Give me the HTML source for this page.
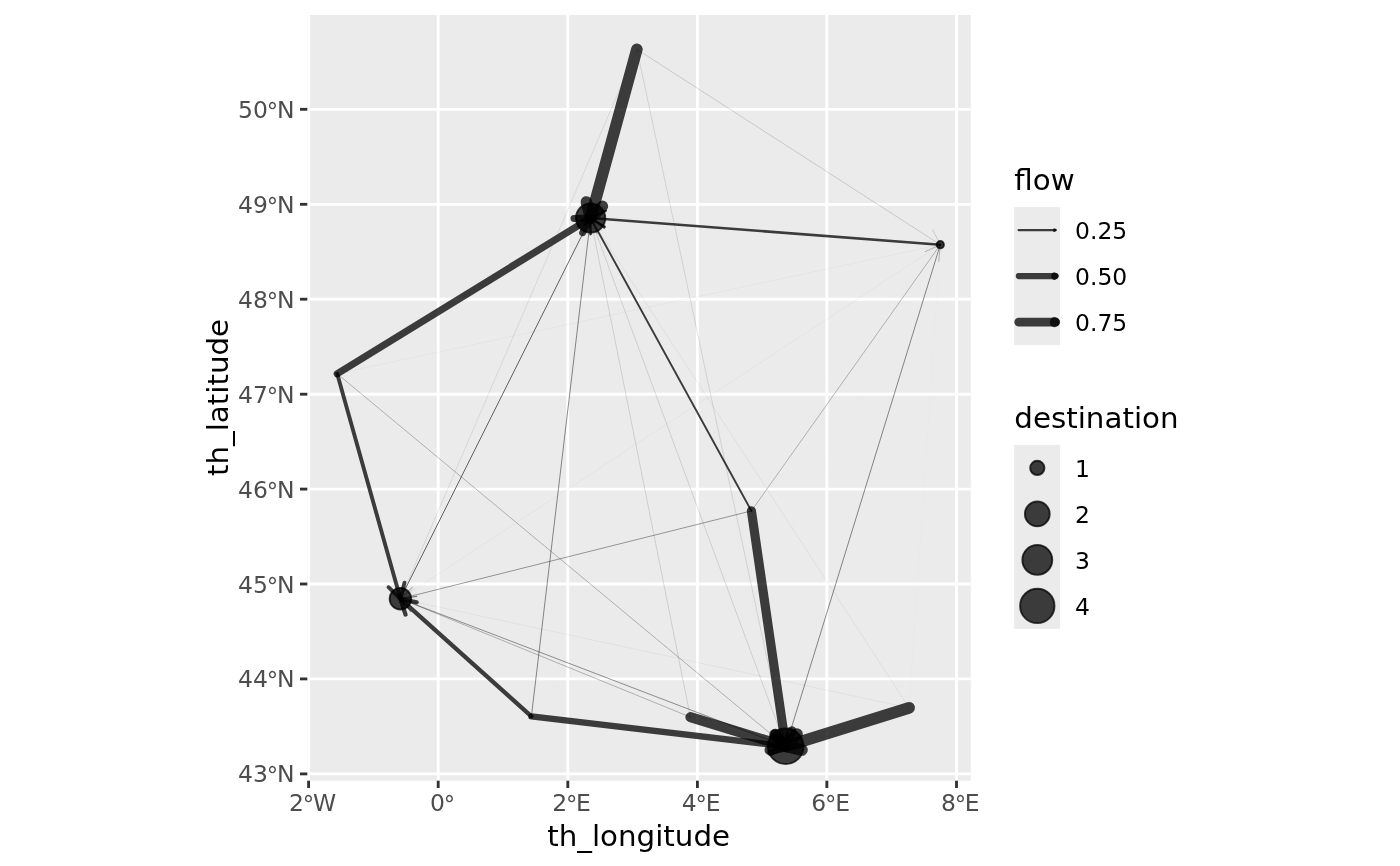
<!DOCTYPE html>
<html lang="en"><head><meta charset="utf-8"><title>flow map</title>
<style>html,body{margin:0;padding:0;background:#fff}body{width:1400px;height:866px;overflow:hidden}svg{display:block}text{font-family:'DejaVu Sans','Liberation Sans',sans-serif}.ax{font-size:23.47px;fill:#4d4d4d}.ti{font-size:29.33px;fill:#000}.lg{font-size:23.47px;fill:#000}</style></head><body>
<svg width="1400" height="866" viewBox="0 0 1400 866">
<rect width="1400" height="866" fill="#fff"/>
<defs><clipPath id="pc"><rect x="307.3" y="15" width="663.5" height="765.7"/></clipPath></defs>
<rect x="307.3" y="15" width="663.5" height="765.7" fill="#ebebeb"/>
<g clip-path="url(#pc)">
<g stroke="#fff" stroke-width="2.85" fill="none">
<line x1="308.6" y1="15" x2="308.6" y2="780.7"/>
<line x1="438.2" y1="15" x2="438.2" y2="780.7"/>
<line x1="567.8" y1="15" x2="567.8" y2="780.7"/>
<line x1="697.4" y1="15" x2="697.4" y2="780.7"/>
<line x1="826.85" y1="15" x2="826.85" y2="780.7"/>
<line x1="956.5" y1="15" x2="956.5" y2="780.7"/>
<line x1="307.3" y1="773.9" x2="970.8" y2="773.9"/>
<line x1="307.3" y1="678.9" x2="970.8" y2="678.9"/>
<line x1="307.3" y1="584" x2="970.8" y2="584"/>
<line x1="307.3" y1="489.1" x2="970.8" y2="489.1"/>
<line x1="307.3" y1="394.2" x2="970.8" y2="394.2"/>
<line x1="307.3" y1="299.2" x2="970.8" y2="299.2"/>
<line x1="307.3" y1="204.3" x2="970.8" y2="204.3"/>
<line x1="307.3" y1="109.3" x2="970.8" y2="109.3"/>
</g>
<g stroke="#000" stroke-opacity="0.75" fill="none" stroke-linecap="round" stroke-linejoin="round">
<line x1="690.4" y1="717.1" x2="940.3" y2="244.7" stroke-width="0.02"/>
<polyline points="926.24,253.53 940.3,244.7 940.91,261.29" stroke-width="0.02"/>
<line x1="531.4" y1="716.4" x2="940.3" y2="244.7" stroke-width="0.02"/>
<polyline points="924.61,250.13 940.3,244.7 937.16,261" stroke-width="0.02"/>
<line x1="909.1" y1="707.8" x2="940.3" y2="244.7" stroke-width="0.02"/>
<polyline points="931.05,258.49 940.3,244.7 947.61,259.6" stroke-width="0.02"/>
<line x1="337.2" y1="373.8" x2="940.3" y2="244.7" stroke-width="0.05"/>
<polyline points="924.51,239.59 940.3,244.7 927.98,255.83" stroke-width="0.05"/>
<line x1="909.1" y1="707.8" x2="400.4" y2="598.8" stroke-width="0.06"/>
<polyline points="412.72,609.93 400.4,598.8 416.2,593.7" stroke-width="0.06"/>
<line x1="400.4" y1="598.8" x2="940.3" y2="244.7" stroke-width="0.03"/>
<polyline points="923.73,245.64 940.3,244.7 932.83,259.52" stroke-width="0.03"/>
<line x1="940.3" y1="244.7" x2="400.4" y2="598.8" stroke-width="0.03"/>
<polyline points="416.97,597.86 400.4,598.8 407.87,583.98" stroke-width="0.03"/>
<line x1="909.1" y1="707.8" x2="590.6" y2="218" stroke-width="0.08"/>
<polyline points="591.48,234.58 590.6,218 605.4,225.53" stroke-width="0.08"/>
<line x1="636.9" y1="49.3" x2="400.4" y2="598.8" stroke-width="0.12"/>
<polyline points="413.71,588.88 400.4,598.8 398.46,582.31" stroke-width="0.12"/>
<line x1="636.9" y1="49.3" x2="785.7" y2="746.3" stroke-width="0.15"/>
<polyline points="790.82,730.51 785.7,746.3 774.58,733.97" stroke-width="0.15"/>
<line x1="636.9" y1="49.3" x2="940.3" y2="244.7" stroke-width="0.2"/>
<polyline points="932.71,229.94 940.3,244.7 923.72,243.89" stroke-width="0.2"/>
<line x1="690.4" y1="717.1" x2="590.6" y2="218" stroke-width="0.17"/>
<polyline points="585.28,233.72 590.6,218 601.56,230.47" stroke-width="0.17"/>
<line x1="590.6" y1="218" x2="785.7" y2="746.3" stroke-width="0.1"/>
<polyline points="788.51,729.94 785.7,746.3 772.93,735.69" stroke-width="0.1"/>
<line x1="785.7" y1="746.3" x2="590.6" y2="218" stroke-width="0.08"/>
<polyline points="587.79,234.36 590.6,218 603.37,228.61" stroke-width="0.08"/>
<line x1="337.2" y1="373.8" x2="785.7" y2="746.3" stroke-width="0.35"/>
<polyline points="779.94,730.73 785.7,746.3 769.34,743.5" stroke-width="0.35"/>
<line x1="690.4" y1="717.1" x2="400.4" y2="598.8" stroke-width="0.35"/>
<polyline points="410.58,611.92 400.4,598.8 416.85,596.54" stroke-width="0.35"/>
<line x1="751.4" y1="510.9" x2="940.3" y2="244.7" stroke-width="0.35"/>
<polyline points="925.21,251.62 940.3,244.7 938.75,261.23" stroke-width="0.35"/>
<line x1="751.4" y1="510.9" x2="400.4" y2="598.8" stroke-width="0.5"/>
<polyline points="416.36,603.36 400.4,598.8 412.33,587.26" stroke-width="0.5"/>
<line x1="785.7" y1="746.3" x2="400.4" y2="598.8" stroke-width="0.55"/>
<polyline points="410.86,611.69 400.4,598.8 416.79,596.19" stroke-width="0.55"/>
<line x1="531.4" y1="716.4" x2="590.6" y2="218" stroke-width="0.6"/>
<polyline points="580.66,231.3 590.6,218 597.15,233.25" stroke-width="0.6"/>
<line x1="940.3" y1="244.7" x2="785.7" y2="746.3" stroke-width="0.6"/>
<polyline points="797.87,735.01 785.7,746.3 782,730.12" stroke-width="0.6"/>
<line x1="400.4" y1="598.8" x2="590.6" y2="218" stroke-width="0.8"/>
<polyline points="576.75,227.15 590.6,218 591.6,234.57" stroke-width="0.8"/>
<line x1="751.4" y1="510.9" x2="590.6" y2="218" stroke-width="1.9"/>
<polyline points="590.24,234.6 590.6,218 604.79,226.61" stroke-width="1.9"/>
<line x1="940.3" y1="244.7" x2="590.6" y2="218" stroke-width="2.6"/>
<polyline points="604.3,227.37 590.6,218 605.57,210.82" stroke-width="2.6"/>
<line x1="337.2" y1="373.8" x2="400.4" y2="598.8" stroke-width="3.9"/>
<polyline points="404.5,582.72 400.4,598.8 388.52,587.2" stroke-width="3.9"/>
<line x1="531.4" y1="716.4" x2="400.4" y2="598.8" stroke-width="4.3"/>
<polyline points="405.55,614.58 400.4,598.8 416.64,602.23" stroke-width="4.3"/>
<line x1="531.4" y1="716.4" x2="785.7" y2="746.3" stroke-width="6.3"/>
<polyline points="772.39,736.38 785.7,746.3 770.45,752.86" stroke-width="6.3"/>
<line x1="337.2" y1="373.8" x2="590.6" y2="218" stroke-width="7.1"/>
<polyline points="574.01,218.46 590.6,218 582.7,232.6" stroke-width="7.1"/>
<line x1="751.4" y1="510.9" x2="785.7" y2="746.3" stroke-width="9.2"/>
<polyline points="791.84,730.88 785.7,746.3 775.41,733.27" stroke-width="9.2"/>
<line x1="690.4" y1="717.1" x2="785.7" y2="746.3" stroke-width="10"/>
<polyline points="774.39,734.15 785.7,746.3 769.52,750.02" stroke-width="10"/>
<line x1="636.9" y1="49.3" x2="590.6" y2="218" stroke-width="11.6"/>
<polyline points="602.41,206.33 590.6,218 586.4,201.94" stroke-width="11.6"/>
<line x1="909.1" y1="707.8" x2="785.7" y2="746.3" stroke-width="11.8"/>
<polyline points="801.9,749.94 785.7,746.3 796.95,734.09" stroke-width="11.8"/>
</g>
<g fill="#000" fill-opacity="0.75" stroke="#000" stroke-opacity="0.75" stroke-width="1.9">
<circle cx="785.7" cy="746.3" r="17.8"/>
<circle cx="590.6" cy="218" r="14.65"/>
<circle cx="400.4" cy="598.8" r="10.75"/>
<circle cx="940.3" cy="244.7" r="3.65"/>
</g>
</g>
<g stroke="#333" stroke-width="2.85" fill="none">
<line x1="308.6" y1="780.7" x2="308.6" y2="788"/>
<line x1="438.2" y1="780.7" x2="438.2" y2="788"/>
<line x1="567.8" y1="780.7" x2="567.8" y2="788"/>
<line x1="697.4" y1="780.7" x2="697.4" y2="788"/>
<line x1="826.85" y1="780.7" x2="826.85" y2="788"/>
<line x1="956.5" y1="780.7" x2="956.5" y2="788"/>
<line x1="300" y1="773.9" x2="307.3" y2="773.9"/>
<line x1="300" y1="678.9" x2="307.3" y2="678.9"/>
<line x1="300" y1="584" x2="307.3" y2="584"/>
<line x1="300" y1="489.1" x2="307.3" y2="489.1"/>
<line x1="300" y1="394.2" x2="307.3" y2="394.2"/>
<line x1="300" y1="299.2" x2="307.3" y2="299.2"/>
<line x1="300" y1="204.3" x2="307.3" y2="204.3"/>
<line x1="300" y1="109.3" x2="307.3" y2="109.3"/>
</g>
<text class="ax" transform="translate(0,810.8) scale(1,0.98)"><tspan x="289.1" y="0">2</tspan><tspan x="302.84" y="0.92" font-size="22.7">°</tspan><tspan x="312.99" y="0">W</tspan></text>
<text class="ax" transform="translate(0,810.8) scale(1,0.98)"><tspan x="430" y="0">0</tspan><tspan x="443.74" y="0.92" font-size="22.7">°</tspan></text>
<text class="ax" transform="translate(0,810.8) scale(1,0.98)"><tspan x="552.2" y="0">2</tspan><tspan x="565.94" y="0.92" font-size="22.7">°</tspan><tspan x="576.09" y="0">E</tspan></text>
<text class="ax" transform="translate(0,810.8) scale(1,0.98)"><tspan x="681.8" y="0">4</tspan><tspan x="695.54" y="0.92" font-size="22.7">°</tspan><tspan x="705.69" y="0">E</tspan></text>
<text class="ax" transform="translate(0,810.8) scale(1,0.98)"><tspan x="811.25" y="0">6</tspan><tspan x="824.99" y="0.92" font-size="22.7">°</tspan><tspan x="835.14" y="0">E</tspan></text>
<text class="ax" transform="translate(0,810.8) scale(1,0.98)"><tspan x="940.9" y="0">8</tspan><tspan x="954.64" y="0.92" font-size="22.7">°</tspan><tspan x="964.79" y="0">E</tspan></text>
<text class="ax" transform="translate(0,782) scale(1,0.98)"><tspan x="238.13 253.07" y="0">43</tspan><tspan x="266.81" y="0.92" font-size="22.7">°</tspan><tspan x="276.96" y="0">N</tspan></text>
<text class="ax" transform="translate(0,687) scale(1,0.98)"><tspan x="238.13 253.07" y="0">44</tspan><tspan x="266.81" y="0.92" font-size="22.7">°</tspan><tspan x="276.96" y="0">N</tspan></text>
<text class="ax" transform="translate(0,593) scale(1,0.98)"><tspan x="238.13 253.07" y="0">45</tspan><tspan x="266.81" y="0.92" font-size="22.7">°</tspan><tspan x="276.96" y="0">N</tspan></text>
<text class="ax" transform="translate(0,498) scale(1,0.98)"><tspan x="238.13 253.07" y="0">46</tspan><tspan x="266.81" y="0.92" font-size="22.7">°</tspan><tspan x="276.96" y="0">N</tspan></text>
<text class="ax" transform="translate(0,403) scale(1,0.98)"><tspan x="238.13 253.07" y="0">47</tspan><tspan x="266.81" y="0.92" font-size="22.7">°</tspan><tspan x="276.96" y="0">N</tspan></text>
<text class="ax" transform="translate(0,308) scale(1,0.98)"><tspan x="238.13 253.07" y="0">48</tspan><tspan x="266.81" y="0.92" font-size="22.7">°</tspan><tspan x="276.96" y="0">N</tspan></text>
<text class="ax" transform="translate(0,213) scale(1,0.98)"><tspan x="238.13 253.07" y="0">49</tspan><tspan x="266.81" y="0.92" font-size="22.7">°</tspan><tspan x="276.96" y="0">N</tspan></text>
<text class="ax" transform="translate(0,118) scale(1,0.98)"><tspan x="238.13 253.07" y="0">50</tspan><tspan x="266.81" y="0.92" font-size="22.7">°</tspan><tspan x="276.96" y="0">N</tspan></text>
<text class="ti" transform="translate(638.65,845.6) scale(1,0.96)" text-anchor="middle">th_longitude</text>
<text class="ti" transform="translate(228,397.45) rotate(-90) scale(1,0.96)" text-anchor="middle">th_latitude</text>
<text class="ti" transform="translate(1014.3,189.8) scale(1,0.96)">flow</text>
<rect x="1014.1" y="207.1" width="46" height="138" fill="#ebebeb"/>
<g stroke="#000" stroke-opacity="0.75" fill="none" stroke-linecap="round" stroke-linejoin="round">
<line x1="1018.7" y1="230.1" x2="1055.5" y2="230.1" stroke-width="2.35"/>
<polyline points="1054.29,229.4 1055.5,230.1 1054.29,230.8" stroke-width="2.35"/>
<line x1="1018.7" y1="276.1" x2="1055.5" y2="276.1" stroke-width="6.05"/>
<polyline points="1054.29,275.4 1055.5,276.1 1054.29,276.8" stroke-width="6.05"/>
<line x1="1018.7" y1="322.1" x2="1055.5" y2="322.1" stroke-width="8.75"/>
<polyline points="1054.29,321.4 1055.5,322.1 1054.29,322.8" stroke-width="8.75"/>
</g>
<text class="lg" transform="translate(1075,238.7) scale(1,0.98)">0.25</text>
<text class="lg" transform="translate(1075,284.7) scale(1,0.98)">0.50</text>
<text class="lg" transform="translate(1075,330.7) scale(1,0.98)">0.75</text>
<text class="ti" transform="translate(1014.3,427.5) scale(1,0.96)">destination</text>
<rect x="1014.1" y="444.9" width="46" height="184" fill="#ebebeb"/>
<g fill="#000" fill-opacity="0.75" stroke="#000" stroke-opacity="0.75" stroke-width="1.9">
<circle cx="1037.3" cy="467.9" r="7.15"/>
<circle cx="1037.3" cy="513.9" r="12.4"/>
<circle cx="1037.3" cy="559.9" r="14.95"/>
<circle cx="1037.3" cy="605.9" r="17.2"/>
</g>
<text class="lg" transform="translate(1075,476.5) scale(1,0.98)">1</text>
<text class="lg" transform="translate(1075,522.5) scale(1,0.98)">2</text>
<text class="lg" transform="translate(1075,568.5) scale(1,0.98)">3</text>
<text class="lg" transform="translate(1075,614.5) scale(1,0.98)">4</text>
</svg></body></html>
